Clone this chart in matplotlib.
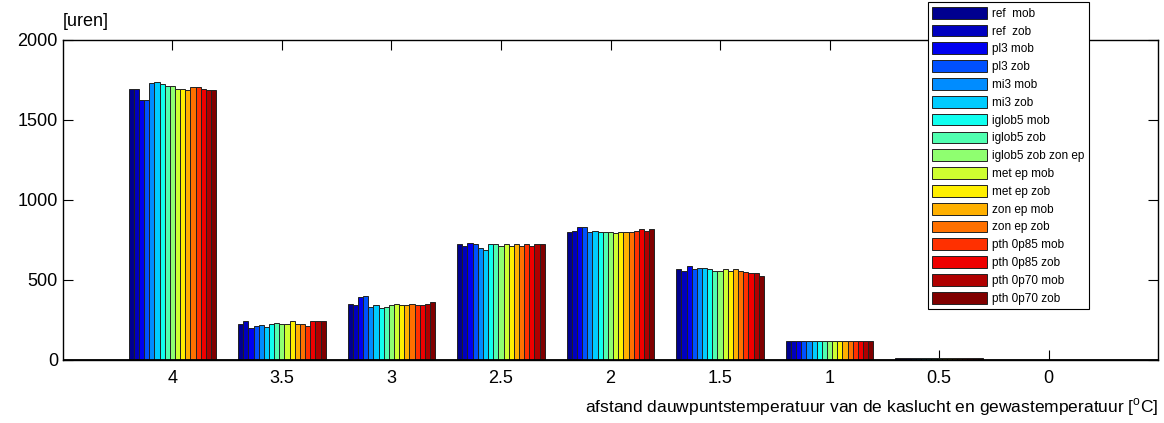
import matplotlib
matplotlib.use("Agg")
import matplotlib.pyplot as plt
import numpy as np

plt.rcParams['font.family'] = ['Liberation Sans', 'DejaVu Sans']

categories = ['4', '3.5', '3', '2.5', '2', '1.5', '1', '0.5', '0']

series = ['ref  mob', 'ref  zob', 'pl3 mob', 'pl3 zob', 'mi3 mob', 'mi3 zob',
          'iglob5 mob', 'iglob5 zob', 'iglob5 zob zon ep', 'met ep mob',
          'met ep zob', 'zon ep mob', 'zon ep zob', 'pth 0p85 mob',
          'pth 0p85 zob', 'pth 0p70 mob', 'pth 0p70 zob']

colors = ['#00008F', '#0000BF', '#0000EF', '#0050FF', '#008CFF', '#00CCFF',
          '#10FFEF', '#50FFB0', '#8FFF70', '#CFFF30', '#FFEF00', '#FFB000',
          '#FF7000', '#FF3000', '#EF0000', '#AF0000', '#800000']

# uren per categorie, een waarde per serie
h_4 = [1696, 1696, 1623, 1623, 1729, 1735, 1723, 1712, 1712, 1696, 1696, 1687, 1704, 1704, 1696, 1687, 1687]
h_35 = [223, 242, 200, 210, 217, 206, 223, 233, 223, 223, 242, 223, 223, 215, 242, 242, 242]
h_3 = [352, 342, 392, 402, 333, 344, 327, 333, 344, 350, 342, 342, 350, 342, 342, 352, 360]
h_25 = [723, 715, 731, 723, 698, 690, 723, 723, 715, 723, 715, 723, 715, 723, 715, 723, 723]
h_2 = [798, 806, 829, 829, 798, 806, 798, 800, 800, 792, 800, 800, 800, 808, 817, 808, 817]
h_15 = [567, 558, 585, 567, 577, 577, 567, 558, 558, 567, 558, 567, 558, 550, 542, 542, 527]
h_1 = [121] * 17
h_05 = [11, 10, 11, 10, 11, 10, 11, 10, 11, 10, 11, 10, 11, 10, 11, 10, 11]
h_0 = [0] * 17

hours = np.array([h_4, h_35, h_3, h_25, h_2, h_15, h_1, h_05, h_0])

fig = plt.figure(figsize=(11.64, 4.23), dpi=100)
ax = fig.add_axes([0.054, 0.149, 0.941, 0.7565])

n = len(series)
x = np.arange(1, len(categories) + 1)
w = 0.8 / n
for i in range(n):
    ax.bar(x + (i - (n - 1) / 2) * w, hours[:, i], width=w, color=colors[i],
           edgecolor='#222222', linewidth=0.7, label=series[i], zorder=2)

ax.axhline(0, color='black', linewidth=1.3, zorder=3)
ax.set_xlim(0, 10)
ax.set_ylim(0, 2000)
ax.set_xticks(x)
ax.set_xticklabels(categories)
ax.set_yticks([0, 500, 1000, 1500, 2000])
ax.tick_params(direction='in', length=7, width=0.8, labelsize=13,
               top=True, right=True)
ax.tick_params(axis='x', pad=7)
for s in ax.spines.values():
    s.set_linewidth(1.0)

fig.text(0.054, 0.93, '[uren]', fontsize=13, ha='left', va='bottom')
fig.text(0.995, 0.012, r'afstand dauwpuntstemperatuur van de kaslucht en gewastemperatuur [$^\mathregular{o}$C]',
         fontsize=12.5, ha='right', va='bottom')

leg = fig.legend(loc='upper left', bbox_to_anchor=(0.797, 0.995), fontsize=8.5,
                 handlelength=4.6, handleheight=1.15, labelspacing=0.42,
                 handletextpad=0.45, borderpad=0.4, borderaxespad=0,
                 fancybox=False, framealpha=1, edgecolor='black')
leg.get_frame().set_linewidth(0.8)

fig.savefig('out.png', dpi=100)
